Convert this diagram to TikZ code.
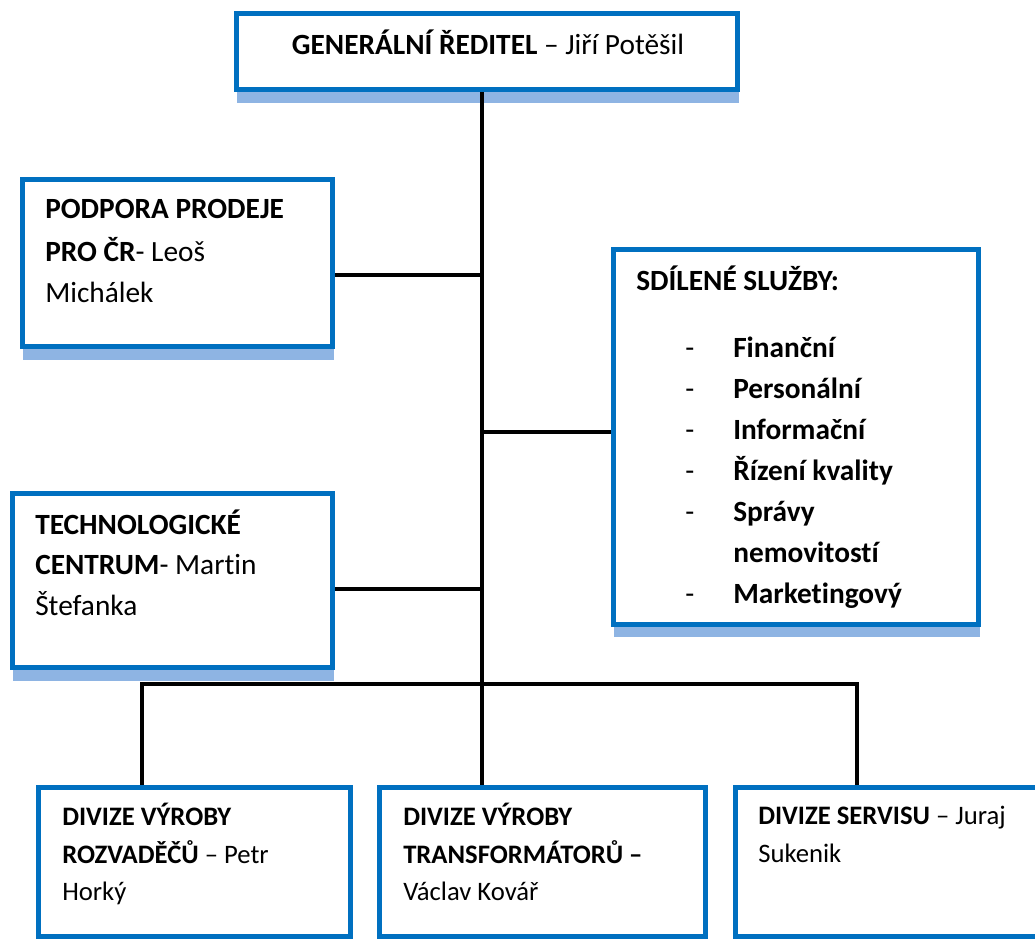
\documentclass[tikz,border=0pt]{standalone}
\usepackage{fontspec}
\setmainfont{Carlito}[Ligatures=NoCommon]
\definecolor{bxblue}{RGB}{0,112,192}
\definecolor{shblue}{RGB}{142,180,227}
\begin{document}
\begin{tikzpicture}[x=0.75pt,y=-0.75pt,
  box/.style={draw=bxblue, line width=2.4pt, fill=white, inner sep=0pt},
  bx/.style 2 args={minimum width=#1*0.75pt, minimum height=#2*0.75pt},
  shadowbox/.style={fill=shblue, draw=none},
  conn/.style={line width=3pt, black},
  lbl/.style={anchor=base west, inner sep=0pt, font=\fontsize{22}{26}\selectfont},
  lbls/.style={anchor=base west, inner sep=0pt, font=\fontsize{20}{24}\selectfont},
]
\useasboundingbox (0,0) rectangle (1035,939);
\clip (0,0) rectangle (1035,939);
\fill[white] (0,0) rectangle (1035,939);

% shadows
\fill[shadowbox] (237,30) rectangle (739,103);
\fill[shadowbox] (23,192) rectangle (334,360);
\fill[shadowbox] (614,262) rectangle (980,637);
\fill[shadowbox] (13,506) rectangle (334,681);

% box nodes (geometry only)
\path node[box, bx={499}{74}] (gen) at (487,51.5) {};
\path node[box, bx={308}{165}] (pod) at (177.5,263) {};
\path node[box, bx={363}{373}] (shd) at (796,437) {};
\path node[box, bx={318}{172}] (tech) at (172.5,580.5) {};
\path node[box, bx={310}{147}] (d1) at (194.5,862) {};
\path node[box, bx={324}{147}] (d2) at (542.5,862) {};
\path node[box, bx={320}{147}] (d3) at (896.5,862) {};

% connector coordinates
\coordinate (tx) at (482,0);
\coordinate (j1) at (482,275);
\coordinate (j2) at (482,432);
\coordinate (j3) at (482,589);
\coordinate (b1) at (142,684);
\coordinate (b3) at (857,684);

% connectors
\draw[conn] (gen.south -| tx) -- (d2.north -| tx);
\draw[conn] (j1) -- (pod.east |- j1);
\draw[conn] (j2) -- (shd.west |- j2);
\draw[conn] (j3) -- (tech.east |- j3);
\draw[conn] (d1.north -| b1) -- (b1) -- (b3) -- (d3.north -| b3);

% redraw box borders on top so connectors end cleanly
\foreach \n in {gen,pod,shd,tech,d1,d2,d3}{
  \draw[draw=bxblue, line width=2.4pt] (\n.north west) rectangle (\n.south east);
}

% texts
\node[lbl, anchor=base] (tgen) at (488,54) {\textbf{GENERÁLNÍ ŘEDITEL} – Jiří Potěšil};

\node[lbl] (tpod1) at (45,218) {\textbf{PODPORA PRODEJE}};
\node[lbl] (tpod2) at (45,261) {\textbf{PRO ČR}- Leoš};
\node[lbl] (tpod3) at (45,302) {Michálek};

\node[lbl] (ttech1) at (35,534) {\textbf{TECHNOLOGICKÉ}};
\node[lbl] (ttech2) at (35,574) {\textbf{CENTRUM}- Martin};
\node[lbl] (ttech3) at (35,615) {Štefanka};

\node[lbl] (tshd0) at (636,290) {\textbf{SDÍLENÉ SLUŽBY:}};
\foreach \y [count=\i] in {357, 398, 439, 480.5, 521.5, 603.5}{
  \node[lbl] (dash\i) at (685,\y) {-};
}
\node[lbl] (tshd1) at (733,357) {\textbf{Finanční}};
\node[lbl] (tshd2) at (733,398) {\textbf{Personální}};
\node[lbl] (tshd3) at (733,439) {\textbf{Informační}};
\node[lbl] (tshd4) at (733,480.5) {\textbf{Řízení kvality}};
\node[lbl] (tshd5) at (733,521.5) {\textbf{Správy}};
\node[lbl] (tshd6) at (733,562.5) {\textbf{nemovitostí}};
\node[lbl] (tshd7) at (733,603.5) {\textbf{Marketingový}};

\node[lbls] (td11) at (62,825) {\textbf{DIVIZE VÝROBY}};
\node[lbls] (td12) at (62,863) {\textbf{ROZVADĚČŮ} – Petr};
\node[lbls] (td13) at (62,900) {Horký};

\node[lbls] (td21) at (403,825) {\textbf{DIVIZE VÝROBY}};
\node[lbls] (td22) at (403,863) {\textbf{TRANSFORMÁTORŮ –}};
\node[lbls] (td23) at (403,900) {Václav Kovář};

\node[lbls] (td31) at (758,824) {\textbf{DIVIZE SERVISU} – Juraj};
\node[lbls] (td32) at (758,862) {Sukenik};
\end{tikzpicture}
\end{document}
